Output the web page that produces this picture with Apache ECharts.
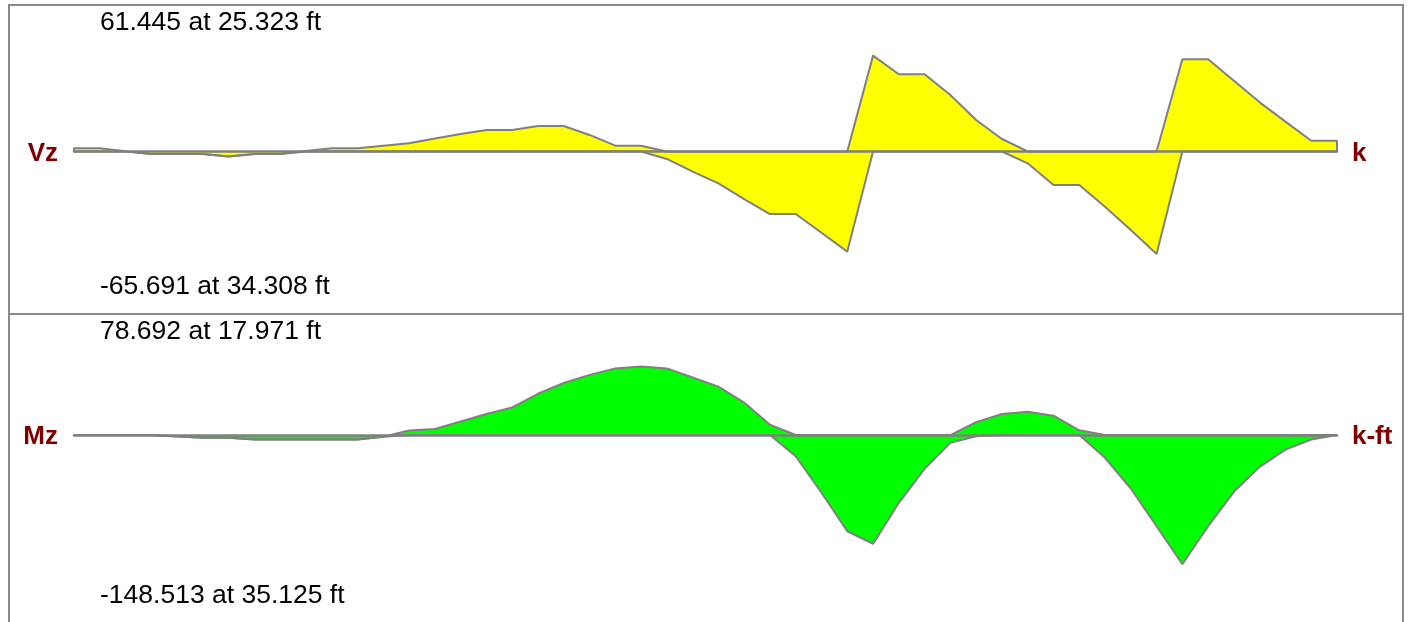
<!DOCTYPE html>
<html>
<head>
<meta charset="utf-8">
<script src="https://cdn.jsdelivr.net/npm/echarts@6/dist/echarts.min.js"></script>
<style>
  html, body { margin: 0; padding: 0; background: #ffffff; }
  #chart { width: 1408px; height: 622px; }
</style>
</head>
<body>
<div id="chart"></div>
<script>
// Output stations along the member (ft)
const stations = [
  0, 0.817, 1.634, 2.451, 3.267, 4.084, 4.901, 5.718, 6.535, 7.352,
  8.169, 8.985, 9.802, 10.619, 11.436, 12.253, 13.070, 13.887, 14.703, 15.520,
  16.337, 17.154, 17.971, 18.788, 19.605, 20.422, 21.238, 22.055, 22.872, 23.689,
  24.506, 25.323, 26.140, 26.956, 27.773, 28.590, 29.407, 30.224, 31.041, 31.858,
  32.674, 33.491, 34.308, 35.125, 35.942, 36.759, 37.576, 38.393, 39.209, 40.026
];

// Shear Vz envelope (k)
const vzMax = [
  2.1, 2.1, 0.2, -1.6, -1.6, -1.6, -3.3, -1.6, -1.6, 0.3,
  2.1, 2.1, 3.7, 5.3, 8.3, 11.2, 13.8, 13.8, 16.3, 16.3,
  10.6, 3.7, 3.7, 0, 0, 0, 0, 0, 0, 0,
  0, 61.445, 49.5, 49.5, 36.2, 20.2, 8.0, 0, 0, 0,
  0, 0, 0, 59.1, 59.1, 45.4, 31.5, 19.1, 6.9, 6.9
];
const vzMin = [
  0, 0, 0, -1.6, -1.6, -1.6, -3.3, -1.6, -1.6, 0,
  0, 0, 0, 0, 0, 0, 0, 0, 0, 0,
  0, 0, 0, -4.8, -12.9, -20.4, -30.6, -40.1, -40.1, -52.1,
  -64.2, 0, 0, 0, 0, 0, 0, -7.6, -21.5, -21.5,
  -35.4, -50.3, -65.691, 0, 0, 0, 0, 0, 0, 0
];

// Moment Mz envelope (k-ft)
const mzMax = [
  0, 0, 0, 0, -1.7, -3.2, -3.2, -5.1, -5.1, -5.1,
  -5.1, -5.1, -2.0, 5.1, 7.0, 15.5, 24.2, 31.7, 47.4, 59.8,
  69.1, 76.6, 78.692, 76.6, 66.1, 55.6, 37.3, 11.8, 0, 0,
  0, 0, 0, 0, 0, 14.8, 24.2, 26.7, 22.2, 5.4,
  0, 0, 0, 0, 0, 0, 0, 0, 0, 0
];
const mzMin = [
  0, 0, 0, 0, -1.7, -3.2, -3.2, -5.1, -5.1, -5.1,
  -5.1, -5.1, -2.0, 0, 0, 0, 0, 0, 0, 0,
  0, 0, 0, 0, 0, 0, 0, 0, -24.4, -66.4,
  -110.6, -125.1, -77.9, -38.9, -9.0, -1.4, 0, 0, 0, 0,
  -26.2, -61.5, -104.8, -148.513, -104.8, -65.3, -36.6, -16.7, -5.2, 0
];

const diagrams = [
  { name: 'Vz', unit: 'k',    max: vzMax, min: vzMin, fill: '#ffff00' },
  { name: 'Mz', unit: 'k-ft', max: mzMax, min: mzMin, fill: '#00ff00' }
];

// closed outline: start and end on the zero line
function outline(values) {
  const pts = values.map((v, i) => [stations[i], v]);
  pts.unshift([stations[0], 0]);
  pts.push([stations[stations.length - 1], 0]);
  return pts;
}

function extreme(values, pick) {
  let idx = 0;
  values.forEach((v, i) => { if (pick(v, values[idx])) idx = i; });
  return values[idx].toFixed(3) + ' at ' + stations[idx].toFixed(3) + ' ft';
}

const FONT = '"Liberation Sans", Arial, Helvetica, sans-serif';
const LINE = '#808080';
const LABEL = '#800000';

const panels = [
  { top: 5,   height: 309, min: -104.2, max: 93.9,  zeroY: 151.5 },
  { top: 314, height: 308, min: -214.9, max: 139.1, zeroY: 435 }
];

const grid = [], xAxis = [], yAxis = [], series = [], graphic = [];

diagrams.forEach((d, k) => {
  const p = panels[k];
  grid.push({ left: 74, width: 1263, top: p.top, height: p.height });
  xAxis.push({
    type: 'value', gridIndex: k, min: 0, max: stations[stations.length - 1],
    z: 5,
    axisLine: { show: true, onZero: true, lineStyle: { color: LINE, width: 2.5 } },
    axisTick: { show: false }, axisLabel: { show: false }, splitLine: { show: false }
  });
  yAxis.push({
    type: 'value', gridIndex: k, min: p.min, max: p.max,
    axisLine: { show: false }, axisTick: { show: false },
    axisLabel: { show: false }, splitLine: { show: false }
  });
  [d.max, d.min].forEach(vals => {
    series.push({
      type: 'line', xAxisIndex: k, yAxisIndex: k,
      data: outline(vals), showSymbol: false, symbol: 'none',
      lineStyle: { color: LINE, width: 2 },
      areaStyle: { color: d.fill, opacity: 1, origin: 0 },
      silent: true
    });
  });

  // panel frame
  graphic.push({
    type: 'rect', silent: true, z: -1,
    shape: { x: 9, y: p.top, width: 1394, height: k === 0 ? p.height : 330 },
    style: { fill: null, stroke: '#8a8a8a', lineWidth: 2 }
  });
  // diagram name and unit
  graphic.push({
    type: 'text', silent: true,
    x: 58, y: p.zeroY + 2,
    style: { text: d.name, font: 'bold 26px ' + FONT, fill: LABEL,
             textAlign: 'right', textVerticalAlign: 'middle' }
  });
  graphic.push({
    type: 'text', silent: true,
    x: 1352, y: p.zeroY + 2,
    style: { text: d.unit, font: 'bold 26px ' + FONT, fill: LABEL,
             textAlign: 'left', textVerticalAlign: 'middle' }
  });
  // extreme values
  graphic.push({
    type: 'text', silent: true,
    x: 100, y: p.top + 18,
    style: { text: extreme(d.max, (a, b) => a > b), font: '26.5px ' + FONT, fill: '#000000',
             textAlign: 'left', textVerticalAlign: 'middle' }
  });
  graphic.push({
    type: 'text', silent: true,
    x: 100, y: p.top + 282,
    style: { text: extreme(d.min, (a, b) => a < b), font: '26.5px ' + FONT, fill: '#000000',
             textAlign: 'left', textVerticalAlign: 'middle' }
  });
});

const chart = echarts.init(document.getElementById('chart'), null, { renderer: 'canvas' });
chart.setOption({
  animation: false,
  backgroundColor: '#ffffff',
  grid, xAxis, yAxis, series, graphic
});
</script>
</body>
</html>
